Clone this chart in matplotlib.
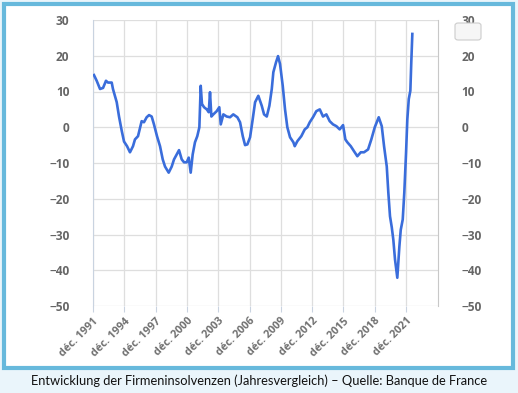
import matplotlib.pyplot as plt
from matplotlib.patches import Rectangle, FancyBboxPatch

# year-over-year change in business insolvencies (%)
years = [
    1992.01, 1992.27, 1992.59, 1992.88, 1993.16, 1993.35, 1993.71, 1993.83,
    1994.19, 1994.41, 1994.67, 1994.89, 1995.18, 1995.46, 1995.75, 1995.94,
    1996.23, 1996.58, 1996.80, 1997.06, 1997.29, 1997.54, 1997.76, 1998.05,
    1998.34, 1998.60, 1998.82, 1999.17, 1999.46, 1999.68, 1999.94, 2000.16,
    2000.42, 2000.64, 2000.90, 2001.09, 2001.28, 2001.47, 2001.69, 2001.91,
    2002.11, 2002.24, 2002.36, 2002.56, 2002.82, 2003.01, 2003.13, 2003.26,
    2003.45, 2003.77, 2004.02, 2004.16, 2004.41, 2004.73, 2005.05, 2005.36,
    2005.75, 2006.01, 2006.27, 2006.49, 2006.71, 2006.97, 2007.22, 2007.45,
    2007.76, 2008.09, 2008.31, 2008.57, 2008.82, 2009.05, 2009.20, 2009.46,
    2009.65, 2009.84, 2010.10, 2010.32, 2010.54, 2010.80, 2011.12, 2011.25,
    2011.50, 2011.88, 2012.21, 2012.46, 2012.69, 2013.00, 2013.32, 2013.65,
    2013.96, 2014.28, 2014.60, 2014.92, 2015.24, 2015.56, 2015.88, 2016.10,
    2016.29, 2016.62, 2016.93, 2017.25, 2017.58, 2017.89, 2018.28, 2018.59,
    2018.92, 2019.30, 2019.59, 2019.81, 2020.07, 2020.22, 2020.38, 2020.55,
    2020.70, 2020.86, 2021.08, 2021.28, 2021.41, 2021.60, 2021.75, 2021.92,
    2022.04, 2022.18, 2022.33, 2022.42, 2022.52,
]
values = [
    14.6, 13.0, 10.7, 11.0, 13.0, 12.5, 12.5, 10.7,
    7.0, 3.0, -1.0, -4.0, -5.3, -7.0, -5.3, -3.4,
    -2.5, 1.7, 1.4, 2.8, 3.4, 3.0, 0.8, -2.5,
    -5.3, -9.0, -11.0, -12.7, -11.0, -9.0, -7.6, -6.4,
    -9.0, -9.8, -9.8, -8.5, -12.7, -7.6, -4.2, -2.5,
    0.0, 11.6, 6.5, 5.6, 5.0, 4.2, 9.8, 3.0,
    3.6, 4.5, 5.6, 0.8, 3.6, 3.0, 2.8, 3.6,
    2.8, 1.4, -2.5, -5.0, -4.8, -2.8, 2.2, 7.0,
    8.8, 6.0, 3.6, 3.0, 6.0, 10.7, 15.4, 18.2,
    19.9, 17.7, 11.6, 5.0, 0.0, -2.8, -4.2, -5.3,
    -3.9, -2.5, -0.6, 0.0, 1.4, 2.8, 4.5, 5.0,
    3.0, 3.6, 1.7, 0.8, 0.3, -0.6, 0.6, -3.4,
    -4.2, -5.3, -6.7, -8.1, -7.0, -7.0, -6.2, -3.4,
    0.0, 2.8, 0.3, -5.3, -11.0, -18.3, -24.9, -28.0,
    -31.5, -37.0, -42.1, -33.3, -28.7, -25.8, -18.3, -7.0,
    2.2, 7.9, 10.2, 18.2, 26.1,
]

tick_years = [1991, 1994, 1997, 2000, 2003, 2006, 2009, 2012, 2015, 2018, 2021]
tick_labels = [f"déc. {y}" for y in tick_years]
y_ticks = [30, 20, 10, 0, -10, -20, -30, -40, -50]

caption = "Entwicklung der Firmeninsolvenzen (Jahresvergleich) – Quelle: Banque de France"

fig = plt.figure(figsize=(5.18, 3.93), dpi=100)
fig.patch.set_facecolor("#eaf5fb")

# white card with blue border (behind the axes)
fig.patches.append(Rectangle((4 / 518, 1 - 368 / 393), 509 / 518, 364 / 393,
                             transform=fig.transFigure, facecolor="white",
                             edgecolor="#67b9dc", linewidth=3, zorder=-5))

ax = fig.add_axes([93 / 518, 1 - 306 / 393, 345 / 518, 286 / 393])
ax.set_facecolor("none")
ax.plot(years, values, color="#3a6ddb", linewidth=1.9, zorder=3)

ax.set_ylim(-50, 30)
ax.set_xlim(1991.917, 2024.98)
ax.set_yticks(y_ticks)
ax.set_xticks([y + 11 / 12 for y in tick_years])
ax.set_xticklabels(tick_labels, rotation=45, ha="right", rotation_mode="anchor",
                   fontsize=7.8, color="#707070", fontfamily="Open Sans",
                   fontweight="bold")
ax.grid(True, color="#dedede", linewidth=0.9)
ax.set_axisbelow(True)

for side in ("top", "bottom"):
    ax.spines[side].set_visible(False)
ax.spines["left"].set_color("#c9d3e0")
ax.spines["right"].set_color("#c8c8c8")

ax.tick_params(axis="y", length=0, pad=17, labelsize=8.6, labelcolor="#666666",
               labelright=True)
ax.tick_params(axis="x", length=4, color="#c9d3e0", pad=3)
for lbl in ax.get_yticklabels():
    lbl.set_fontweight("bold")
    lbl.set_fontfamily("Open Sans")

# empty legend box at top right
fig.patches.append(FancyBboxPatch((455 / 518, 1 - 40 / 393), 26 / 518, 17 / 393,
                                  boxstyle="round,pad=0,rounding_size=0.006",
                                  transform=fig.transFigure, facecolor="#f6f6f6",
                                  edgecolor="#cccccc", linewidth=0.8, zorder=1))

fig.text(0.5, 1 - 381 / 393, caption, ha="center", va="center",
         fontsize=9.3, color="#111111", fontfamily="Lato")

fig.savefig("out.png", dpi=100, facecolor=fig.get_facecolor())
